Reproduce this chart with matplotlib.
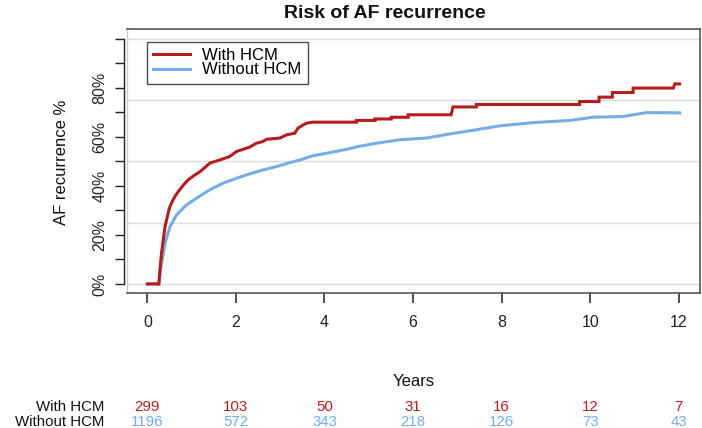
import matplotlib
matplotlib.use("Agg")
import matplotlib.pyplot as plt
from matplotlib.lines import Line2D
from matplotlib.transforms import blended_transform_factory

plt.rcParams['font.family'] = ['Liberation Sans', 'DejaVu Sans']

# ---- data (repeated times mark vertical steps) ----
hcm_t = [0.0, 0.26, 0.28, 0.32, 0.40, 0.47, 0.51, 0.58, 0.65, 0.73, 0.82, 0.92, 1.05, 1.19,
         1.30, 1.41, 1.64, 1.86, 2.01, 2.24, 2.31, 2.46, 2.61, 2.69, 2.92, 2.99, 3.14, 3.33,
         3.40, 3.52, 3.60, 3.74, 4.72, 4.72, 5.14, 5.14, 5.51, 5.51, 5.89, 5.89, 6.86, 6.90,
         7.43, 7.43, 9.76, 9.76, 10.20, 10.20, 10.50, 10.50, 10.97, 10.97, 11.88, 11.91, 12.02]
hcm_y = [0.0, 0.0, 5.0, 12.6, 23.4, 29.0, 31.6, 34.3, 36.5, 38.4, 40.5, 42.4, 44.2, 45.8,
         47.5, 49.3, 50.6, 52.0, 54.0, 55.4, 55.8, 57.4, 58.1, 59.0, 59.4, 59.5, 60.8, 61.5,
         63.5, 64.9, 65.6, 66.0, 66.0, 66.7, 66.7, 67.3, 67.3, 68.0, 68.0, 69.0, 69.0, 72.2,
         72.2, 73.2, 73.2, 74.4, 74.4, 76.2, 76.2, 78.1, 78.1, 79.9, 79.9, 81.6, 81.6]

no_hcm_t = [0.0, 0.26, 0.28, 0.32, 0.40, 0.51, 0.66, 0.88, 1.11, 1.41, 1.71, 2.01, 2.31,
            2.61, 2.92, 3.18, 3.45, 3.74, 4.10, 4.50, 4.80, 5.17, 5.70, 6.30, 6.83, 7.43,
            7.96, 8.71, 9.54, 10.06, 10.74, 11.27, 12.02]
no_hcm_y = [0.0, 0.0, 3.0, 8.4, 16.6, 23.4, 28.2, 32.2, 35.0, 38.4, 41.1, 43.1, 44.9,
            46.5, 47.9, 49.3, 50.6, 52.3, 53.5, 54.9, 56.2, 57.4, 58.8, 59.5, 61.2, 62.9,
            64.5, 65.8, 66.7, 68.0, 68.3, 69.9, 69.8]

series_names = ["With HCM", "Without HCM"]
risk_times = [0, 2, 4, 6, 8, 10, 12]
risk_hcm = [299, 103, 50, 31, 16, 12, 7]
risk_no_hcm = [1196, 572, 343, 218, 126, 73, 43]

x_ticks = [0, 2, 4, 6, 8, 10, 12]
y_major = [0, 20, 40, 60, 80]
y_minor = [10, 30, 50, 70, 90, 100]
y_grid = [0, 25, 50, 75, 100]

RED = '#b71c1c'
BLUE = '#74aee6'

W, H = 702, 428
fig = plt.figure(figsize=(W / 100, H / 100), dpi=100)
ax = fig.add_axes([127 / W, 1 - 293 / H, (700 - 127) / W, (293 - 29) / H])

ax.set_xlim(-0.46, 12.48)
ax.set_ylim(-3.7, 104)

for g in y_grid:
    ax.axhline(g, color='#dcdcdc', lw=1.0, zorder=0)

ax.plot(hcm_t, hcm_y, color=RED, lw=2.2, label=series_names[0],
        solid_joinstyle='miter', zorder=3)
ax.plot(no_hcm_t, no_hcm_y, color=BLUE, lw=2.2, label=series_names[1],
        solid_joinstyle='miter', zorder=2)

# frame
for s in ['top', 'right', 'bottom']:
    ax.spines[s].set_color('#555555')
    ax.spines[s].set_linewidth(1.2)
ax.spines['left'].set_position(('outward', 2))
ax.spines['left'].set_bounds(0, 100)
ax.spines['left'].set_color('#222222')
ax.spines['left'].set_linewidth(1.0)
ax.add_line(Line2D([0, 0], [0, 1], transform=ax.transAxes, color='#cccccc', lw=1.0,
                   clip_on=False))

ax.set_xticks(x_ticks)
ax.set_xticklabels([str(v) for v in x_ticks], fontsize=11.5, color='#222222')
ax.tick_params(axis='x', length=7, width=1.2, color='#333333', pad=9)

ax.set_yticks(y_major)
ax.set_yticklabels([f"{v}%" for v in y_major], rotation=90, va='center', fontsize=11.5,
                   color='#222222')
ax.set_yticks(y_minor, minor=True)
ax.tick_params(axis='y', which='both', length=6.5, width=1.0, color='#222222', pad=5.5)

leg = ax.legend(loc='upper left', bbox_to_anchor=((146.5 - 127) / 573, 1 - (41.5 - 29) / 264),
                frameon=True, fancybox=False, edgecolor='#222222', fontsize=12,
                handlelength=2.2, handletextpad=0.75, borderpad=0.4, labelspacing=-0.05,
                borderaxespad=0)
leg.get_frame().set_linewidth(1.0)

fig.text(385 / W, 1 - 13 / H, "Risk of AF recurrence", ha='center', va='center',
         fontsize=14, fontweight='bold', color='#111111')
fig.text(62 / W, 1 - 162 / H, "AF recurrence %", rotation=90, ha='center', va='center',
         fontsize=12, color='#111111')
fig.text(414 / W, 1 - 381 / H, "Years", ha='center', va='center', fontsize=12,
         color='#111111')

tr = blended_transform_factory(ax.transData, fig.transFigure)
row1, row2 = 1 - 411 / H, 1 - 426 / H
fs_tab = 10.8
fig.text(104 / W, row1, series_names[0], ha='right', va='baseline', fontsize=fs_tab,
         color='#111111')
fig.text(104 / W, row2, series_names[1], ha='right', va='baseline', fontsize=fs_tab,
         color='#111111')
for t, a, b in zip(risk_times, risk_hcm, risk_no_hcm):
    ax.text(t, row1, str(a), transform=tr, ha='center', va='baseline', fontsize=fs_tab,
            color=RED)
    ax.text(t, row2, str(b), transform=tr, ha='center', va='baseline', fontsize=fs_tab,
            color=BLUE)

fig.savefig('out.png', dpi=100)
